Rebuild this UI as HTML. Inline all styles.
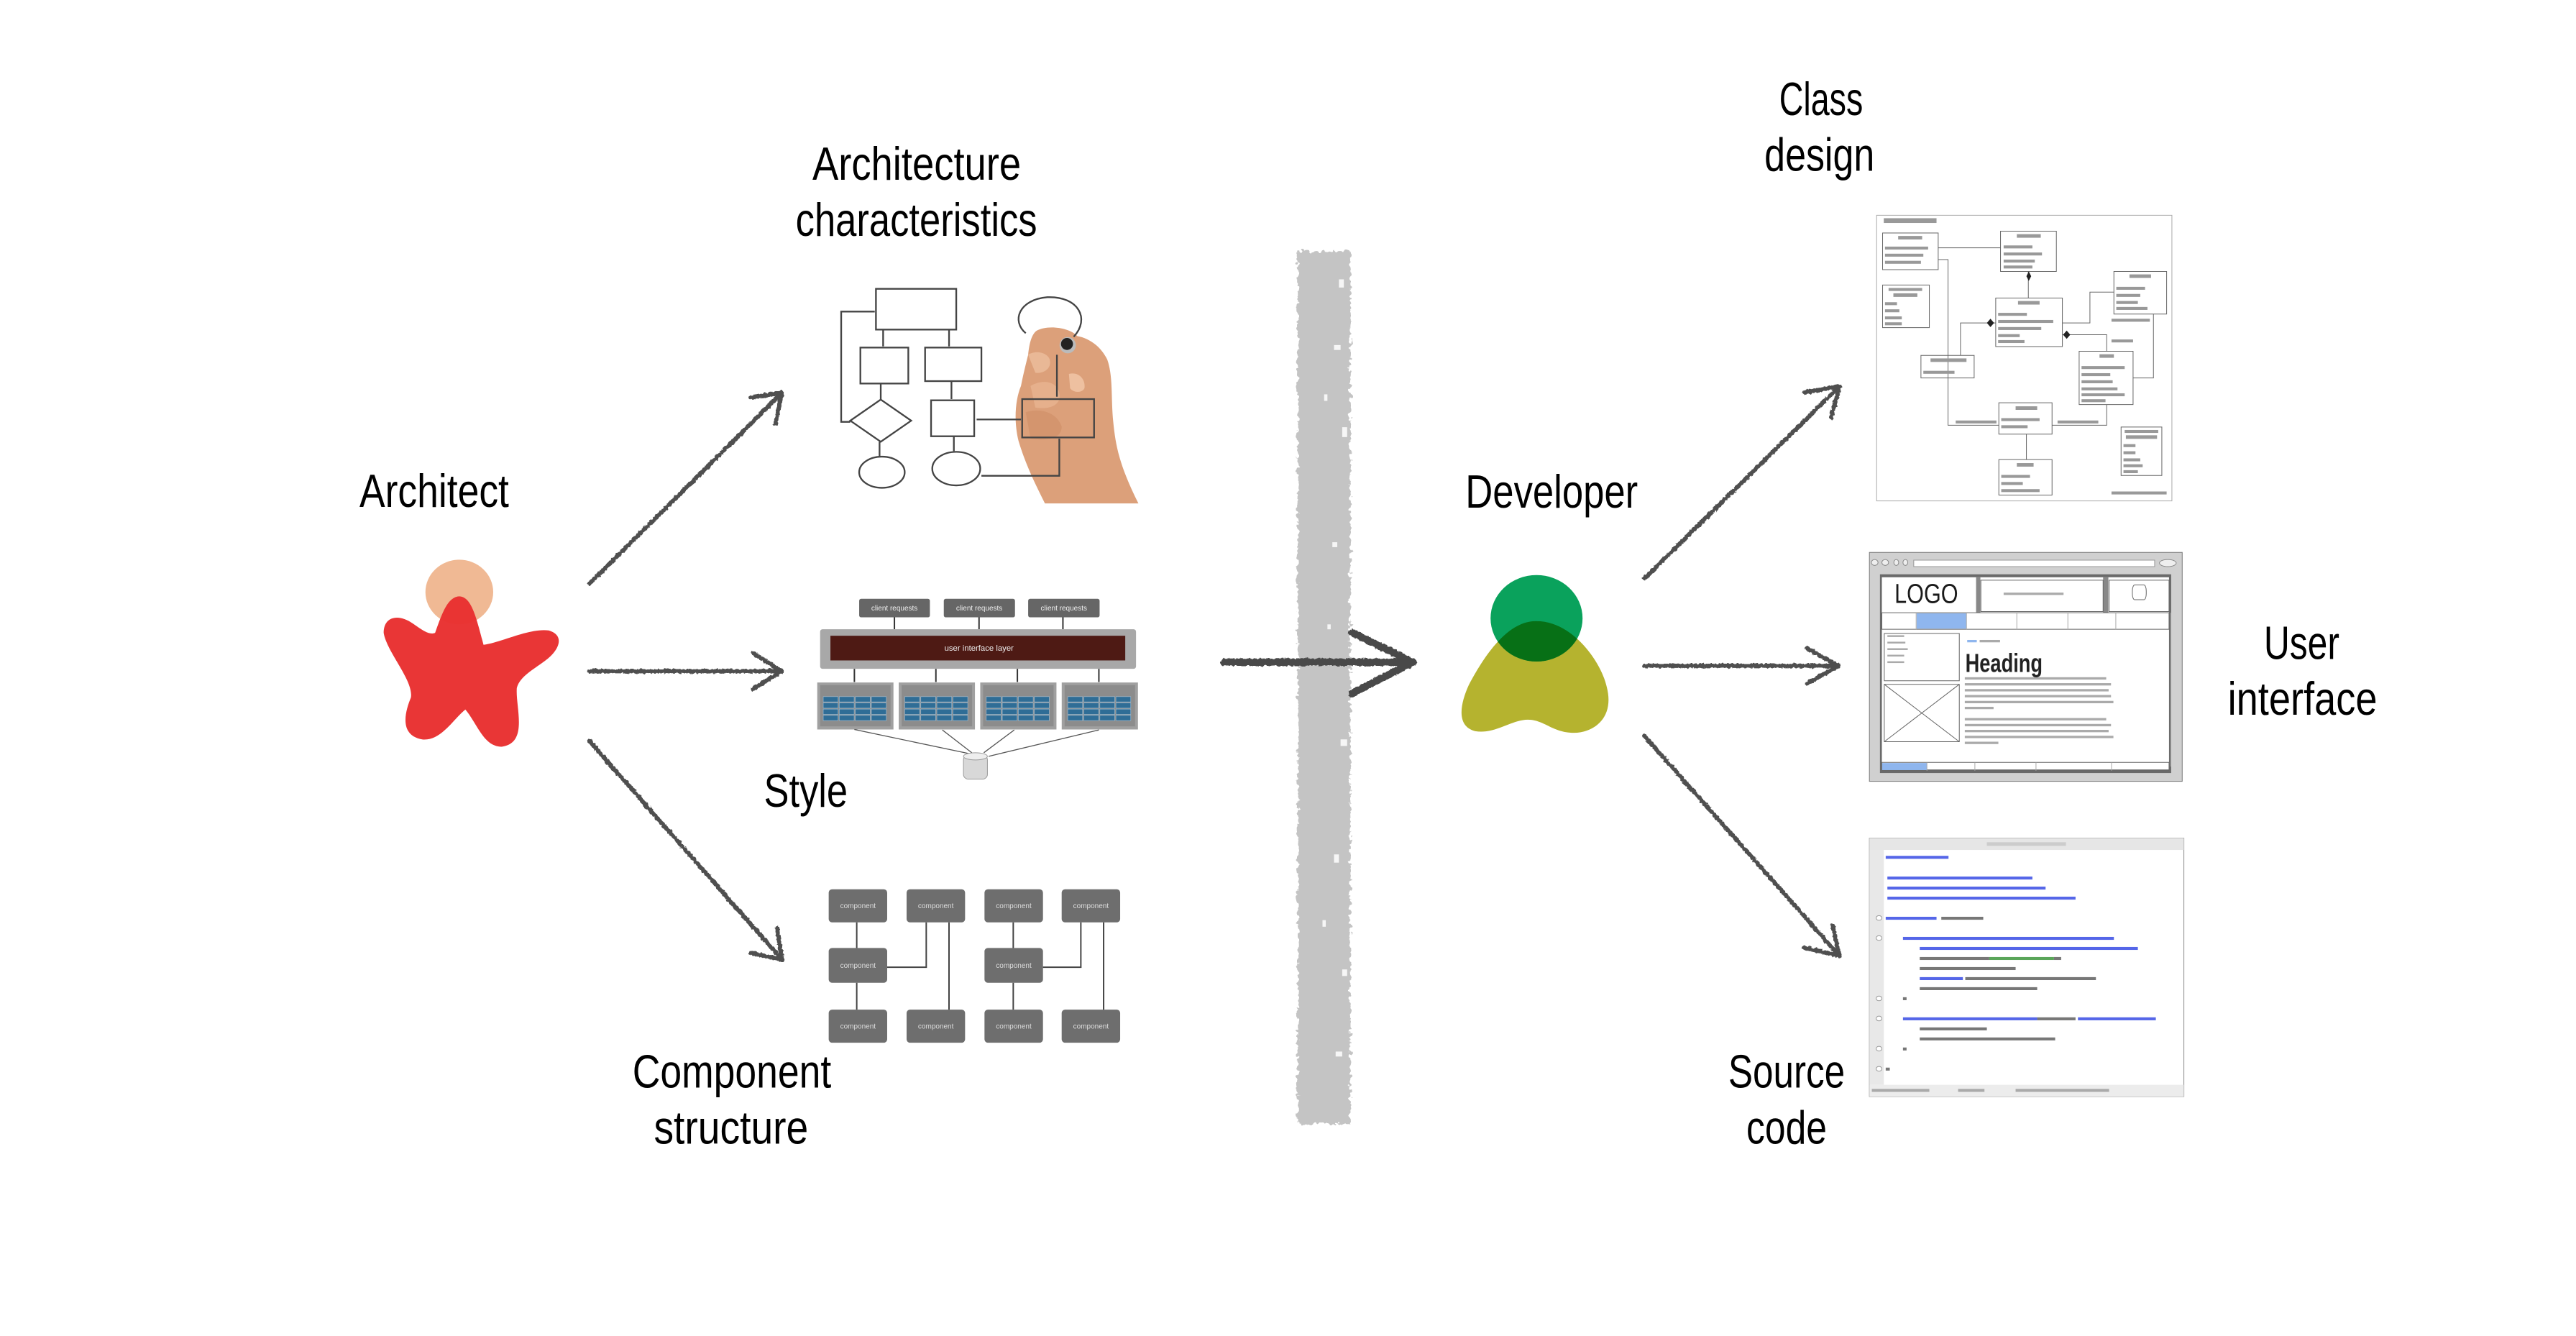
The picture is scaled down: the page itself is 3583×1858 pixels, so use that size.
<!DOCTYPE html>
<html><head><meta charset="utf-8"><style>
html,body{margin:0;padding:0;background:#fff;}
svg{display:block;}
.lbl{font-family:"Liberation Sans Narrow","Liberation Sans",sans-serif;font-size:28.5px;fill:#000;}
.t{font-family:"Liberation Sans",sans-serif;}
</style></head><body>
<svg width="3583" height="1858" viewBox="0 0 1568 813.1" xmlns="http://www.w3.org/2000/svg">
<defs>
<filter id="rough" x="-20%" y="-5%" width="140%" height="110%">
  <feTurbulence type="fractalNoise" baseFrequency="0.35" numOctaves="2" seed="3" result="n"/>
  <feDisplacementMap in="SourceGraphic" in2="n" scale="5" xChannelSelector="R" yChannelSelector="G"/>
</filter>
<filter id="rough2" x="-10%" y="-10%" width="120%" height="120%">
  <feTurbulence type="fractalNoise" baseFrequency="0.6" numOctaves="2" seed="7" result="n"/>
  <feDisplacementMap in="SourceGraphic" in2="n" scale="2" xChannelSelector="R" yChannelSelector="G"/>
</filter>
</defs>
<rect width="1568" height="813.1" fill="#fff"/>

<!-- Labels -->
<text class="lbl" x="494.5" y="109.5" textLength="127" lengthAdjust="spacingAndGlyphs">Architecture</text>
<text class="lbl" x="484.3" y="143.5" textLength="147" lengthAdjust="spacingAndGlyphs">characteristics</text>
<text class="lbl" x="218.8" y="308.5" textLength="91" lengthAdjust="spacingAndGlyphs">Architect</text>
<text class="lbl" x="465" y="491" textLength="51" lengthAdjust="spacingAndGlyphs">Style</text>
<text class="lbl" x="385" y="662" textLength="121" lengthAdjust="spacingAndGlyphs">Component</text>
<text class="lbl" x="398" y="696" textLength="94" lengthAdjust="spacingAndGlyphs">structure</text>
<text class="lbl" x="892" y="309" textLength="105" lengthAdjust="spacingAndGlyphs">Developer</text>
<text class="lbl" x="1083" y="70" textLength="51" lengthAdjust="spacingAndGlyphs">Class</text>
<text class="lbl" x="1074" y="104" textLength="67" lengthAdjust="spacingAndGlyphs">design</text>
<text class="lbl" x="1378" y="401" textLength="46" lengthAdjust="spacingAndGlyphs">User</text>
<text class="lbl" x="1356" y="435" textLength="91" lengthAdjust="spacingAndGlyphs">interface</text>
<text class="lbl" x="1052" y="662" textLength="71" lengthAdjust="spacingAndGlyphs">Source</text>
<text class="lbl" x="1063" y="696" textLength="49" lengthAdjust="spacingAndGlyphs">code</text>

<!-- Architect figure -->
<g transform="translate(218.8,280.1) scale(0.1842,0.1459)">
  <ellipse cx="330" cy="550" rx="112" ry="135" fill="#f0b994"/>
  <path d="M330,568 C370,570 385,650 410,770 C470,760 560,700 625,710 C680,730 660,790 620,830 C580,870 530,900 520,950 C515,1030 560,1180 470,1195 C410,1195 390,1100 350,1040 C310,1080 270,1170 210,1165 C130,1150 150,1050 170,990 C180,920 90,800 80,720 C80,650 130,640 175,680 C210,710 230,730 250,720 C270,650 290,568 330,568 Z" fill="#e8302f" opacity="0.97"/>
</g>

<!-- Left arrows -->
<g stroke="#505050" stroke-width="2.6" fill="none" stroke-linecap="round" stroke-linejoin="round" filter="url(#rough2)">
  <line x1="358.8" y1="355.2" x2="476" y2="239"/>
  <polyline points="457,242 476,239 472,258"/>
  <line x1="358.8" y1="408.5" x2="475.8" y2="408.5"/>
  <polyline points="458.3,397.5 475.8,408.5 458.3,419.4"/>
  <line x1="358.8" y1="451" x2="476" y2="584"/>
  <polyline points="473,565 476,584 457,580"/>
</g>

<!-- Flowchart with hand -->
<g transform="translate(498.9,166.3) scale(0.1459)">
  <path d="M905,240 C950,215 1040,225 1075,262 C1120,270 1170,300 1200,360 C1225,430 1215,520 1225,620 C1235,720 1250,800 1330,960 L940,960 C900,880 860,800 830,700 C810,620 815,530 840,470 C850,420 860,380 870,340 C875,290 885,255 905,240 Z" fill="#dca07a"/>
  <path d="M870,340 C900,320 950,330 960,360 C970,400 930,420 900,415 Z" fill="#e9b896"/>
  <path d="M880,470 C930,440 990,450 1000,500 C1010,550 960,570 900,560 Z" fill="#e6b08c"/>
  <path d="M1040,420 C1080,410 1110,440 1105,480 C1095,500 1060,500 1045,480 Z" fill="#eec0a0"/>
  <path d="M860,580 C920,560 990,580 1010,640 C1010,690 950,700 880,690 Z" fill="#d4956e"/>
  <g fill="none" stroke="#444" stroke-width="7">
    <rect x="235" y="65" width="335" height="170"/>
    <rect x="170" y="310" width="200" height="150"/>
    <rect x="440" y="310" width="235" height="140"/>
    <polygon points="255,527 382,615 255,703 128,615"/>
    <rect x="465" y="530" width="180" height="150"/>
    <ellipse cx="260" cy="830" rx="95" ry="65"/>
    <ellipse cx="570" cy="815" rx="100" ry="70"/>
    <polyline points="128,620 90,620 90,160 230,160"/>
    <line x1="265" y1="235" x2="265" y2="305"/><line x1="540" y1="235" x2="540" y2="305"/>
    <line x1="255" y1="460" x2="255" y2="525"/><line x1="550" y1="450" x2="550" y2="525"/>
    <line x1="250" y1="703" x2="250" y2="762"/><line x1="560" y1="680" x2="560" y2="742"/>
    <line x1="655" y1="610" x2="840" y2="610"/>
    <polyline points="675,845 1000,845 1000,690"/>
    <line x1="990" y1="515" x2="990" y2="340"/>
    <path d="M860,250 C800,200 830,110 950,100 C1080,95 1130,190 1060,265"/>
    <rect x="845" y="525" width="300" height="160"/>
  </g>
  <circle cx="1035" cy="300" r="34" fill="#bbb"/>
  <circle cx="1032" cy="295" r="25" fill="#222"/>
</g>

<!-- Style diagram -->
<g transform="translate(481.4,341.4) scale(0.1459)">
  <g fill="#666"><rect x="285" y="158" width="295" height="77" rx="8"/><rect x="638" y="158" width="297" height="77" rx="8"/><rect x="990" y="158" width="298" height="77" rx="8"/></g>
  <g class="t" fill="#eee" font-size="30" text-anchor="middle"><text x="432" y="207">client requests</text><text x="786" y="207">client requests</text><text x="1139" y="207">client requests</text></g>
  <g stroke="#333" stroke-width="6"><line x1="432" y1="235" x2="432" y2="285"/><line x1="785" y1="235" x2="785" y2="285"/><line x1="1135" y1="235" x2="1135" y2="285"/>
  <line x1="265" y1="450" x2="265" y2="505"/><line x1="605" y1="450" x2="605" y2="505"/><line x1="945" y1="450" x2="945" y2="505"/><line x1="1285" y1="450" x2="1285" y2="505"/></g>
  <rect x="122" y="285" width="1318" height="165" rx="10" fill="#a8a8a8"/>
  <rect x="165" y="312" width="1230" height="103" fill="#4e1a14"/>
  <text class="t" x="785" y="375" font-size="34" fill="#eee" text-anchor="middle">user interface layer</text>
  <g id="svc">
    <rect x="110" y="507" width="318" height="196" fill="#a0a0a0"/>
    <rect x="122" y="518" width="294" height="172" fill="#8c8c8c"/>
    <g fill="#2f6d96" stroke="#9bbad0" stroke-width="2">
      <rect x="135" y="566" width="62" height="22"/><rect x="202" y="566" width="62" height="22"/><rect x="269" y="566" width="62" height="22"/><rect x="336" y="566" width="62" height="22"/>
      <rect x="135" y="592" width="62" height="22"/><rect x="202" y="592" width="62" height="22"/><rect x="269" y="592" width="62" height="22"/><rect x="336" y="592" width="62" height="22"/>
      <rect x="135" y="618" width="62" height="22"/><rect x="202" y="618" width="62" height="22"/><rect x="269" y="618" width="62" height="22"/><rect x="336" y="618" width="62" height="22"/>
      <rect x="135" y="644" width="62" height="22"/><rect x="202" y="644" width="62" height="22"/><rect x="269" y="644" width="62" height="22"/><rect x="336" y="644" width="62" height="22"/>
    </g>
  </g>
  <use href="#svc" x="340"/><use href="#svc" x="680"/><use href="#svc" x="1020"/>
  <g stroke="#555" stroke-width="4"><line x1="265" y1="703" x2="750" y2="805"/><line x1="632" y1="705" x2="755" y2="800"/><line x1="932" y1="705" x2="805" y2="800"/><line x1="1285" y1="705" x2="825" y2="815"/></g>
  <rect x="720" y="810" width="100" height="100" rx="20" fill="#d8d8d8" stroke="#999" stroke-width="3"/>
  <ellipse cx="770" cy="815" rx="50" ry="15" fill="#eee" stroke="#999" stroke-width="3"/>
</g>

<!-- Component structure -->
<g transform="translate(494.5,538.3) scale(0.1459)">
  <g fill="#6e6e6e">
    <rect x="68" y="20" width="244" height="138" rx="14"/><rect x="393" y="20" width="244" height="138" rx="14"/><rect x="718" y="20" width="244" height="138" rx="14"/><rect x="1040" y="20" width="244" height="138" rx="14"/>
    <rect x="68" y="265" width="244" height="145" rx="14"/><rect x="718" y="265" width="244" height="145" rx="14"/>
    <rect x="68" y="522" width="244" height="138" rx="14"/><rect x="393" y="522" width="244" height="138" rx="14"/><rect x="718" y="522" width="244" height="138" rx="14"/><rect x="1040" y="522" width="244" height="138" rx="14"/>
  </g>
  <g class="t" fill="#ddd" font-size="30" text-anchor="middle">
    <text x="190" y="99">component</text><text x="515" y="99">component</text><text x="840" y="99">component</text><text x="1162" y="99">component</text>
    <text x="190" y="348">component</text><text x="840" y="348">component</text>
    <text x="190" y="601">component</text><text x="515" y="601">component</text><text x="840" y="601">component</text><text x="1162" y="601">component</text>
  </g>
  <g stroke="#444" stroke-width="6" fill="none">
    <line x1="185" y1="158" x2="185" y2="265"/><line x1="185" y1="410" x2="185" y2="522"/>
    <polyline points="312,345 475,345 475,158"/><line x1="570" y1="158" x2="570" y2="522"/>
    <line x1="838" y1="158" x2="838" y2="265"/><line x1="838" y1="410" x2="838" y2="522"/>
    <polyline points="962,345 1120,345 1120,158"/><line x1="1215" y1="158" x2="1215" y2="522"/>
  </g>
</g>

<!-- Barrier -->
<g filter="url(#rough)">
<rect x="790" y="153" width="32" height="531" fill="#c4c4c4"/>
</g>
<g fill="#fff" opacity="0.85">
  <rect x="815" y="170" width="3" height="5"/><rect x="812" y="210" width="4" height="3"/><rect x="817" y="260" width="3" height="6"/><rect x="811" y="330" width="3" height="3"/><rect x="816" y="450" width="4" height="4"/><rect x="812" y="520" width="3" height="5"/><rect x="817" y="590" width="3" height="4"/><rect x="813" y="640" width="4" height="3"/>
  <rect x="806" y="240" width="2" height="4"/><rect x="808" y="380" width="2" height="3"/><rect x="805" y="560" width="2" height="4"/>
</g>

<!-- Central arrow -->
<g stroke="#4a4a4a" stroke-width="4.5" fill="none" stroke-linecap="round" stroke-linejoin="round" filter="url(#rough2)">
  <line x1="745" y1="403" x2="860" y2="403"/>
  <polyline points="823,385 860,403 823,422"/>
</g>

<!-- Developer figure -->
<defs><clipPath id="yc"><path d="M935,378 C958,378 975,404 978,418 C983,437 970,446 958,446 C945,446 940,438 930,438 C920,438 910,447 898,445 C886,442 889,428 894,417 C904,398 918,378 935,378 Z"/></clipPath></defs>
<path d="M935,378 C958,378 975,404 978,418 C983,437 970,446 958,446 C945,446 940,438 930,438 C920,438 910,447 898,445 C886,442 889,428 894,417 C904,398 918,378 935,378 Z" fill="#b5b32f"/>
<ellipse cx="935.3" cy="376.3" rx="28" ry="26.3" fill="#0aa25c"/>
<ellipse cx="935.3" cy="376.3" rx="28" ry="26.3" fill="#077016" clip-path="url(#yc)"/>

<!-- Right arrows -->
<g stroke="#505050" stroke-width="2.6" fill="none" stroke-linecap="round" stroke-linejoin="round" filter="url(#rough2)">
  <line x1="1001" y1="352" x2="1119.7" y2="235.1"/>
  <polyline points="1098.5,238.9 1119.7,235.1 1114.6,254"/>
  <line x1="1001" y1="405.2" x2="1119" y2="405.2"/>
  <polyline points="1100,394.6 1119,405.2 1100,416"/>
  <line x1="1001" y1="448" x2="1119.7" y2="581.8"/>
  <polyline points="1098.5,576.8 1119.7,581.8 1115.3,562.9"/>
</g>

<!-- Class design -->
<g transform="translate(1137.9,122) scale(0.1459,0.36)" fill="none" stroke="#666">
  <rect x="30" y="25" width="1232" height="483" fill="#fff" stroke="#aaa" stroke-width="1" vector-effect="non-scaling-stroke"/>
  <g stroke-width="1" vector-effect="non-scaling-stroke" fill="#fff">
    <rect x="55" y="55" width="232" height="62" vector-effect="non-scaling-stroke"/>
    <rect x="55" y="143" width="195" height="72" vector-effect="non-scaling-stroke"/>
    <rect x="547" y="52" width="233" height="68" vector-effect="non-scaling-stroke"/>
    <rect x="527" y="165" width="278" height="82" vector-effect="non-scaling-stroke"/>
    <rect x="1020" y="120" width="220" height="72" vector-effect="non-scaling-stroke"/>
    <rect x="215" y="262" width="222" height="38" vector-effect="non-scaling-stroke"/>
    <rect x="875" y="255" width="225" height="90" vector-effect="non-scaling-stroke"/>
    <rect x="540" y="342" width="222" height="53" vector-effect="non-scaling-stroke"/>
    <rect x="540" y="438" width="222" height="60" vector-effect="non-scaling-stroke"/>
    <rect x="1050" y="383" width="170" height="82" vector-effect="non-scaling-stroke"/>
  </g>
  <g stroke-width="1" vector-effect="non-scaling-stroke">
    <polyline points="287,80 547,80" vector-effect="non-scaling-stroke"/>
    <polyline points="287,100 328,100 328,380 540,380" vector-effect="non-scaling-stroke"/>
    <polyline points="380,262 380,207 527,207" vector-effect="non-scaling-stroke"/>
    <line x1="663" y1="120" x2="663" y2="165" vector-effect="non-scaling-stroke"/>
    <polyline points="805,207 920,207 920,155 1020,155" vector-effect="non-scaling-stroke"/>
    <polyline points="805,227 990,227 990,255" vector-effect="non-scaling-stroke"/>
    <polyline points="1100,300 1185,300 1185,192" vector-effect="non-scaling-stroke"/>
    <polyline points="762,380 990,380 990,345" vector-effect="non-scaling-stroke"/>
    <line x1="655" y1="395" x2="655" y2="438" vector-effect="non-scaling-stroke"/>
  </g>
  <g fill="#999" stroke="none">
    <rect x="60" y="30" width="220" height="8"/>
    <rect x="120" y="60" width="100" height="6"/><rect x="65" y="78" width="180" height="5"/><rect x="65" y="90" width="160" height="5"/><rect x="65" y="102" width="150" height="5"/>
    <rect x="80" y="148" width="140" height="5"/><rect x="100" y="157" width="100" height="6"/><rect x="65" y="172" width="50" height="5"/><rect x="65" y="184" width="60" height="5"/><rect x="65" y="196" width="70" height="5"/><rect x="65" y="206" width="70" height="5"/>
    <rect x="615" y="57" width="100" height="6"/><rect x="560" y="76" width="120" height="5"/><rect x="560" y="88" width="160" height="5"/><rect x="560" y="100" width="130" height="5"/><rect x="560" y="110" width="120" height="5"/>
    <rect x="620" y="170" width="90" height="6"/><rect x="537" y="190" width="120" height="5"/><rect x="537" y="202" width="230" height="5"/><rect x="537" y="214" width="180" height="5"/><rect x="537" y="226" width="90" height="5"/><rect x="537" y="236" width="110" height="5"/>
    <rect x="1085" y="125" width="90" height="6"/><rect x="1030" y="146" width="120" height="5"/><rect x="1030" y="158" width="100" height="5"/><rect x="1030" y="170" width="90" height="5"/><rect x="1030" y="180" width="130" height="5"/>
    <rect x="255" y="267" width="150" height="6"/><rect x="225" y="288" width="130" height="5"/>
    <rect x="960" y="260" width="60" height="6"/><rect x="885" y="280" width="180" height="5"/><rect x="885" y="292" width="120" height="5"/><rect x="885" y="304" width="130" height="5"/><rect x="885" y="316" width="150" height="5"/><rect x="885" y="326" width="180" height="5"/><rect x="885" y="336" width="100" height="5"/>
    <rect x="610" y="348" width="90" height="6"/><rect x="550" y="368" width="160" height="5"/><rect x="550" y="380" width="110" height="5"/>
    <rect x="615" y="444" width="70" height="6"/><rect x="550" y="464" width="120" height="5"/><rect x="550" y="476" width="90" height="5"/><rect x="550" y="488" width="160" height="5"/>
    <rect x="1065" y="388" width="140" height="5"/><rect x="1070" y="397" width="130" height="6"/><rect x="1060" y="412" width="50" height="5"/><rect x="1060" y="424" width="50" height="5"/><rect x="1060" y="436" width="70" height="5"/><rect x="1060" y="446" width="80" height="5"/><rect x="1060" y="456" width="60" height="5"/>
    <rect x="360" y="372" width="170" height="5"/><rect x="785" y="372" width="170" height="5"/><rect x="1010" y="200" width="160" height="5"/><rect x="1010" y="235" width="90" height="5"/>
    <rect x="1010" y="492" width="230" height="5"/>
  </g>
  <g fill="#222" stroke="none"><polygon points="655,128 665,120 675,128 665,136"/><polygon points="490,207 505,200 520,207 505,214"/><polygon points="808,227 823,220 838,227 823,234"/></g>
</g>

<!-- User interface wireframe -->
<g transform="translate(1137.9,122) scale(0.1459,0.36)">
  <rect x="0" y="595" width="1305" height="387" fill="#d0d0d0" stroke="#777" stroke-width="1" vector-effect="non-scaling-stroke"/>
  <g fill="#eee" stroke="#888" stroke-width="1"><ellipse cx="22" cy="612" rx="14" ry="5" vector-effect="non-scaling-stroke"/><ellipse cx="66" cy="612" rx="14" ry="5" vector-effect="non-scaling-stroke"/><ellipse cx="112" cy="612" rx="10" ry="5" vector-effect="non-scaling-stroke"/><ellipse cx="150" cy="612" rx="10" ry="5" vector-effect="non-scaling-stroke"/><ellipse cx="1245" cy="613" rx="35" ry="6" vector-effect="non-scaling-stroke"/></g>
  <rect x="185" y="608" width="1005" height="11" fill="#fff" stroke="#999" stroke-width="1" vector-effect="non-scaling-stroke"/>
  <rect x="44" y="632" width="1215" height="336" fill="#6a6a6a"/>
  <rect x="52" y="637" width="1198" height="325" fill="#fff"/>
  <rect x="445" y="637" width="18" height="60" fill="#888"/><rect x="975" y="637" width="22" height="60" fill="#888"/>
  <rect x="1255" y="697" width="4" height="260" fill="#999"/>
  <g fill="none" stroke="#666" stroke-width="1">
    <rect x="465" y="642" width="510" height="53" vector-effect="non-scaling-stroke"/>
    <rect x="1000" y="642" width="250" height="53" vector-effect="non-scaling-stroke"/>
    <rect x="1097" y="650" width="58" height="25" rx="10" vector-effect="non-scaling-stroke"/>
    <rect x="52" y="697" width="1198" height="28" vector-effect="non-scaling-stroke"/>
    <rect x="62" y="732" width="313" height="80" vector-effect="non-scaling-stroke"/>
    <rect x="62" y="818" width="313" height="97" vector-effect="non-scaling-stroke"/>
    <line x1="62" y1="818" x2="375" y2="915" vector-effect="non-scaling-stroke"/><line x1="375" y1="818" x2="62" y2="915" vector-effect="non-scaling-stroke"/>
    <rect x="52" y="950" width="1198" height="14" vector-effect="non-scaling-stroke"/>
  </g>
  <rect x="197" y="698" width="208" height="26" fill="#8fb6ee"/>
  <rect x="53" y="951" width="187" height="12" fill="#8fb6ee"/>
  <g stroke="#aaa" stroke-width="1"><line x1="195" y1="697" x2="195" y2="725" vector-effect="non-scaling-stroke"/><line x1="405" y1="697" x2="405" y2="725" vector-effect="non-scaling-stroke"/><line x1="615" y1="697" x2="615" y2="725" vector-effect="non-scaling-stroke"/><line x1="828" y1="697" x2="828" y2="725" vector-effect="non-scaling-stroke"/><line x1="1028" y1="697" x2="1028" y2="725" vector-effect="non-scaling-stroke"/>
  <line x1="240" y1="950" x2="240" y2="964" vector-effect="non-scaling-stroke"/><line x1="440" y1="950" x2="440" y2="964" vector-effect="non-scaling-stroke"/><line x1="695" y1="950" x2="695" y2="964" vector-effect="non-scaling-stroke"/><line x1="1010" y1="950" x2="1010" y2="964" vector-effect="non-scaling-stroke"/></g>
  <g fill="#aaa">
    <rect x="560" y="663" width="250" height="4"/>
    <rect x="75" y="735" width="70" height="3"/><rect x="75" y="746" width="75" height="3"/><rect x="75" y="757" width="85" height="3"/><rect x="75" y="768" width="70" height="3"/><rect x="75" y="779" width="70" height="3"/>
    <rect x="408" y="743" width="40" height="4" fill="#8fb6ee"/><rect x="460" y="743" width="85" height="4"/>
    <rect x="398" y="806" width="590" height="4"/><rect x="398" y="816" width="610" height="4"/><rect x="398" y="826" width="600" height="4"/><rect x="398" y="836" width="610" height="4"/><rect x="398" y="846" width="620" height="4"/><rect x="398" y="856" width="120" height="4"/>
    <rect x="398" y="875" width="590" height="4"/><rect x="398" y="885" width="610" height="4"/><rect x="398" y="895" width="600" height="4"/><rect x="398" y="905" width="620" height="4"/><rect x="398" y="915" width="140" height="4"/>
  </g>
</g>
<text class="t" x="1153.2" y="367" font-size="16.5" textLength="38.7" lengthAdjust="spacingAndGlyphs" fill="#1a1a1a">LOGO</text>
<text class="t" x="1196.3" y="409" font-size="16" font-weight="bold" textLength="47" lengthAdjust="spacingAndGlyphs" fill="#222">Heading</text>

<!-- Source code -->
<g transform="translate(1137.9,122) scale(0.1459,0.36)">
  <rect x="0" y="1078" width="1312" height="437" fill="#fff" stroke="#888" stroke-width="1" vector-effect="non-scaling-stroke"/>
  <rect x="0" y="1078" width="1312" height="20" fill="#e6e6e6"/>
  <rect x="0" y="1098" width="60" height="397" fill="#e8e8e8"/>
  <rect x="0" y="1495" width="1312" height="20" fill="#ececec"/>
  <rect x="490" y="1085" width="330" height="6" fill="#ccc"/>
  <g fill="#5566e8">
    <rect x="68" y="1108" width="262" height="5"/>
    <rect x="75" y="1143" width="605" height="5"/><rect x="75" y="1160" width="660" height="5"/><rect x="75" y="1177" width="785" height="5"/>
    <rect x="68" y="1211" width="212" height="5"/>
    <rect x="140" y="1245" width="880" height="5"/>
    <rect x="210" y="1262" width="910" height="5"/>
    <rect x="210" y="1313" width="180" height="5"/>
    <rect x="140" y="1381" width="560" height="5"/><rect x="870" y="1381" width="325" height="5"/>
  </g>
  <g fill="#777">
    <rect x="300" y="1211" width="175" height="5"/>
    <rect x="210" y="1279" width="290" height="5"/><rect x="770" y="1279" width="30" height="5"/>
    <rect x="210" y="1296" width="400" height="5"/>
    <rect x="400" y="1313" width="545" height="5"/>
    <rect x="210" y="1330" width="490" height="5"/>
    <rect x="140" y="1347" width="15" height="5"/>
    <rect x="700" y="1381" width="160" height="5"/>
    <rect x="210" y="1398" width="280" height="5"/><rect x="210" y="1415" width="565" height="5"/>
    <rect x="140" y="1432" width="15" height="5"/><rect x="68" y="1466" width="17" height="5"/>
    <rect x="10" y="1502" width="240" height="5" fill="#aaa"/><rect x="370" y="1502" width="110" height="5" fill="#aaa"/><rect x="610" y="1502" width="390" height="5" fill="#aaa"/>
  </g>
  <rect x="500" y="1279" width="270" height="5" fill="#5aa55a"/>
  <g fill="#fff" stroke="#999" stroke-width="1"><ellipse cx="40" cy="1213" rx="12" ry="4" vector-effect="non-scaling-stroke"/><ellipse cx="40" cy="1247" rx="12" ry="4" vector-effect="non-scaling-stroke"/><ellipse cx="40" cy="1349" rx="12" ry="4" vector-effect="non-scaling-stroke"/><ellipse cx="40" cy="1383" rx="12" ry="4" vector-effect="non-scaling-stroke"/><ellipse cx="40" cy="1434" rx="12" ry="4" vector-effect="non-scaling-stroke"/><ellipse cx="40" cy="1468" rx="12" ry="4" vector-effect="non-scaling-stroke"/></g>
</g>
</svg>
</body></html>
